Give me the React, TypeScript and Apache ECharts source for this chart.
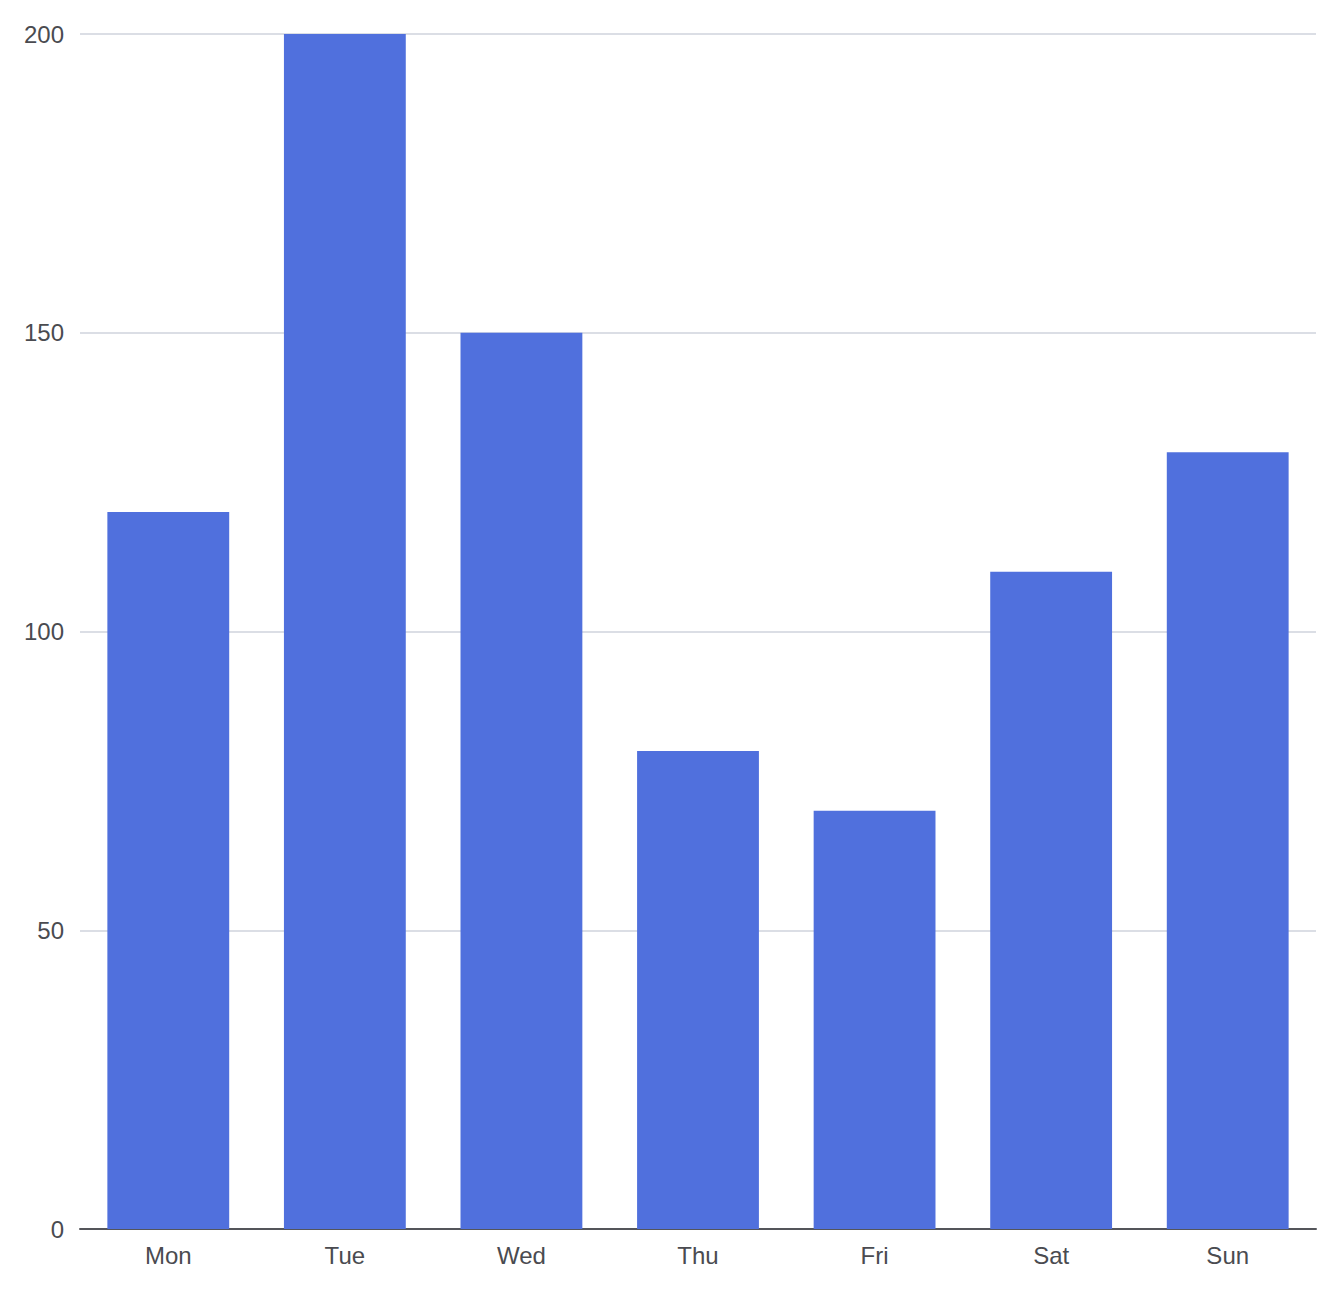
import React, { useEffect, useRef } from "react";
import * as echarts from "echarts";

const categories = ["Mon", "Tue", "Wed", "Thu", "Fri", "Sat", "Sun"];
const values = [120, 200, 150, 80, 70, 110, 130];
const yTicks = { min: 0, max: 200, interval: 50 };

export default function App() {
  const ref = useRef<HTMLDivElement>(null);
  useEffect(() => {
    if (!ref.current) return;
    const chart = echarts.init(ref.current, undefined, { renderer: "svg" });
    chart.setOption({
      animation: false,
      textStyle: { fontFamily: "Liberation Sans, Arial, Helvetica, sans-serif" },
      grid: { left: 72, right: 18, top: 26, bottom: 52, containLabel: false, outerBoundsMode: "none" },
      xAxis: {
        type: "category",
        data: categories,
        axisTick: { show: false },
        axisLine: { lineStyle: { color: "#54555a", width: 2 } },
        axisLabel: { fontSize: 24, color: "#4a4b50", margin: 14 },
      },
      yAxis: {
        type: "value",
        min: yTicks.min,
        max: yTicks.max,
        interval: yTicks.interval,
        axisLabel: { fontSize: 24, color: "#4a4b50", margin: 16 },
        splitLine: { lineStyle: { color: "#dbdee5", width: 2 } },
      },
      series: [
        {
          type: "bar",
          data: values,
          barCategoryGap: "31%",
          itemStyle: { color: "#5070dd" },
        },
      ],
    });
    return () => chart.dispose();
  }, []);
  return <div ref={ref} style={{ width: 1326, height: 1273 }} />;
}
